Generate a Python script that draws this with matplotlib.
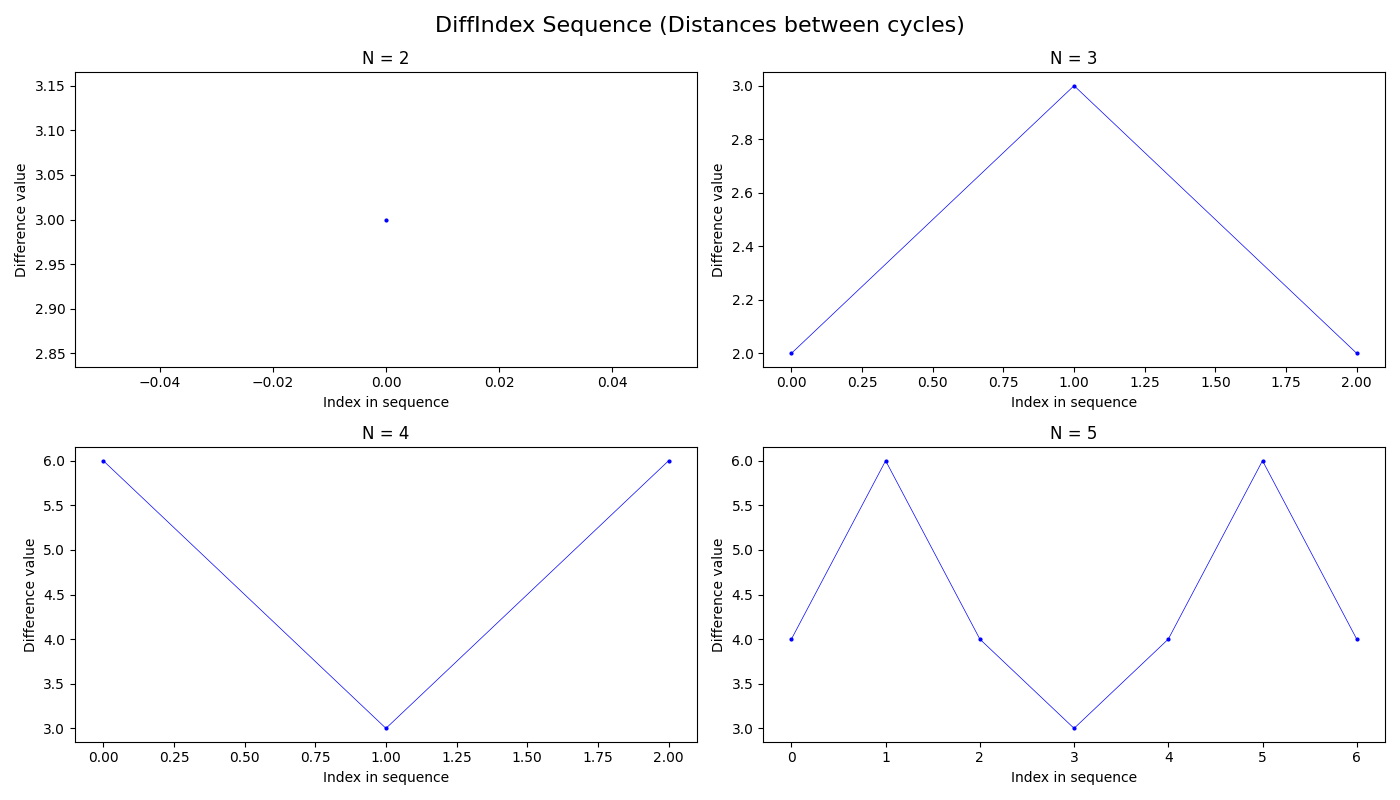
import matplotlib
matplotlib.use("Agg")
import matplotlib.pyplot as plt

# DiffIndex sequences per N
N_VALUES = [2, 3, 4, 5]
DIFF_N2 = [3]
DIFF_N3 = [2, 3, 2]
DIFF_N4 = [6, 3, 6]
DIFF_N5 = [4, 6, 4, 3, 4, 6, 4]
SEQUENCES = [DIFF_N2, DIFF_N3, DIFF_N4, DIFF_N5]

fig, axes = plt.subplots(2, 2, figsize=(14, 8), dpi=100)

for ax, n, seq in zip(axes.flat, N_VALUES, SEQUENCES):
    ax.plot(range(len(seq)), seq, marker="o", color="blue", lw=0.5, markersize=2)
    ax.set_title(f"N = {n}")
    ax.set_xlabel("Index in sequence")
    ax.set_ylabel("Difference value")

fig.suptitle("DiffIndex Sequence (Distances between cycles)", fontsize=16)
fig.tight_layout()
fig.savefig("out.png")
